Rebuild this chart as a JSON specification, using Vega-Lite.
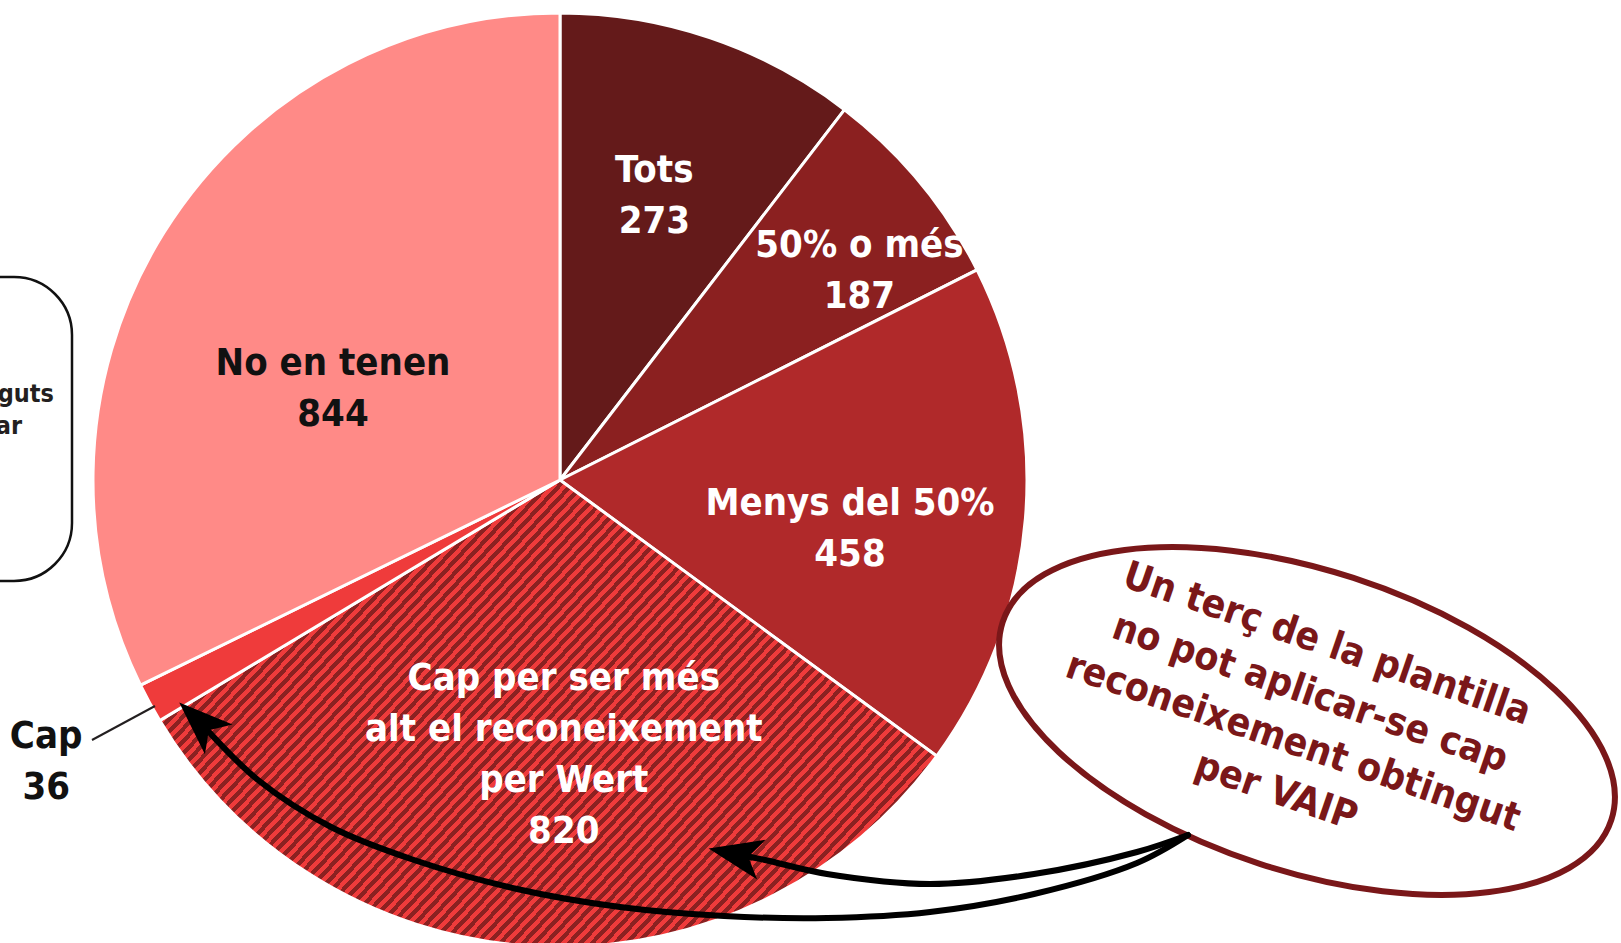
{
"$schema": "https://vega.github.io/schema/vega-lite/v6.json",
"width": 1621, "height": 943,
"autosize": {"type": "none"},
"padding": 0,
"background": "white",
"config": {"view": {"stroke": null}, "text": {"font": "DejaVu Sans Condensed", "fontWeight": "bold"}},
"datasets": {
"slices": [
{"cat": "Tots", "label": "Tots", "value": 273, "rank": 1},
{"cat": "50% o més", "label": "50% o més", "value": 187, "rank": 2},
{"cat": "Menys del 50%", "label": "Menys del 50%", "value": 458, "rank": 3},
{"cat": "Cap per Wert", "label": "Cap  per ser més\nalt el reconeixement\nper Wert", "value": 820, "rank": 4},
{"cat": "Cap", "label": "Cap", "value": 36, "rank": 5},
{"cat": "No en tenen", "label": "No en tenen", "value": 844, "rank": 6}
],
"arrows": [
{"arrow": "a", "i": 0, "x": 1188, "y": 835}, {"arrow": "a", "i": 1, "x": 1137, "y": 852}, {"arrow": "a", "i": 2, "x": 1034, "y": 874}, {"arrow": "a", "i": 3, "x": 930, "y": 884}, {"arrow": "a", "i": 4, "x": 827, "y": 874}, {"arrow": "a", "i": 5, "x": 765, "y": 860}, {"arrow": "a", "i": 6, "x": 735, "y": 854},
{"arrow": "b", "i": 0, "x": 1188, "y": 835}, {"arrow": "b", "i": 1, "x": 1137, "y": 863}, {"arrow": "b", "i": 2, "x": 1034, "y": 894}, {"arrow": "b", "i": 3, "x": 930, "y": 912}, {"arrow": "b", "i": 4, "x": 827, "y": 918}, {"arrow": "b", "i": 5, "x": 724, "y": 916}, {"arrow": "b", "i": 6, "x": 620, "y": 907}, {"arrow": "b", "i": 7, "x": 517, "y": 889}, {"arrow": "b", "i": 8, "x": 414, "y": 860}, {"arrow": "b", "i": 9, "x": 331, "y": 827}, {"arrow": "b", "i": 10, "x": 258, "y": 780}, {"arrow": "b", "i": 11, "x": 199, "y": 721}
],
"notes": [{"note": "Un terç de la plantilla\nno pot aplicar-se cap\nreconeixement obtingut\nper VAIP"}]
},
"layer": [
{
"data": {"name": "slices"},
"mark": {"type": "arc", "outerRadius": 467, "stroke": "white", "strokeWidth": 3},
"encoding": {
"theta": {"field": "value", "type": "quantitative", "stack": true},
"order": {"field": "rank", "type": "quantitative"},
"x": {"datum": 560, "type": "quantitative", "scale": {"domain": [0, 1621], "nice": false, "zero": false}, "axis": null},
"y": {"datum": 480, "type": "quantitative", "scale": {"domain": [0, 943], "nice": false, "zero": false, "reverse": true}, "axis": null},
"color": {
"condition": {"test": "datum.rank === 4", "value": {"gradient": "linear", "x1": 0, "y1": 0, "x2": 1.1248, "y2": 0.6304, "stops": [
{"offset":0.18,"color":"#8b2121"},{"offset":0.185,"color":"#8b2121"},{"offset":0.185,"color":"#ef3b3b"},{"offset":0.19,"color":"#ef3b3b"},
{"offset":0.19,"color":"#8b2121"},{"offset":0.195,"color":"#8b2121"},{"offset":0.195,"color":"#ef3b3b"},{"offset":0.2,"color":"#ef3b3b"},
{"offset":0.2,"color":"#8b2121"},{"offset":0.205,"color":"#8b2121"},{"offset":0.205,"color":"#ef3b3b"},{"offset":0.21,"color":"#ef3b3b"},
{"offset":0.21,"color":"#8b2121"},{"offset":0.215,"color":"#8b2121"},{"offset":0.215,"color":"#ef3b3b"},{"offset":0.22,"color":"#ef3b3b"},
{"offset":0.22,"color":"#8b2121"},{"offset":0.225,"color":"#8b2121"},{"offset":0.225,"color":"#ef3b3b"},{"offset":0.23,"color":"#ef3b3b"},
{"offset":0.23,"color":"#8b2121"},{"offset":0.235,"color":"#8b2121"},{"offset":0.235,"color":"#ef3b3b"},{"offset":0.24,"color":"#ef3b3b"},
{"offset":0.24,"color":"#8b2121"},{"offset":0.245,"color":"#8b2121"},{"offset":0.245,"color":"#ef3b3b"},{"offset":0.25,"color":"#ef3b3b"},
{"offset":0.25,"color":"#8b2121"},{"offset":0.255,"color":"#8b2121"},{"offset":0.255,"color":"#ef3b3b"},{"offset":0.26,"color":"#ef3b3b"},
{"offset":0.26,"color":"#8b2121"},{"offset":0.265,"color":"#8b2121"},{"offset":0.265,"color":"#ef3b3b"},{"offset":0.27,"color":"#ef3b3b"},
{"offset":0.27,"color":"#8b2121"},{"offset":0.275,"color":"#8b2121"},{"offset":0.275,"color":"#ef3b3b"},{"offset":0.28,"color":"#ef3b3b"},
{"offset":0.28,"color":"#8b2121"},{"offset":0.285,"color":"#8b2121"},{"offset":0.285,"color":"#ef3b3b"},{"offset":0.29,"color":"#ef3b3b"},
{"offset":0.29,"color":"#8b2121"},{"offset":0.295,"color":"#8b2121"},{"offset":0.295,"color":"#ef3b3b"},{"offset":0.3,"color":"#ef3b3b"},
{"offset":0.3,"color":"#8b2121"},{"offset":0.305,"color":"#8b2121"},{"offset":0.305,"color":"#ef3b3b"},{"offset":0.31,"color":"#ef3b3b"},
{"offset":0.31,"color":"#8b2121"},{"offset":0.315,"color":"#8b2121"},{"offset":0.315,"color":"#ef3b3b"},{"offset":0.32,"color":"#ef3b3b"},
{"offset":0.32,"color":"#8b2121"},{"offset":0.325,"color":"#8b2121"},{"offset":0.325,"color":"#ef3b3b"},{"offset":0.33,"color":"#ef3b3b"},
{"offset":0.33,"color":"#8b2121"},{"offset":0.335,"color":"#8b2121"},{"offset":0.335,"color":"#ef3b3b"},{"offset":0.34,"color":"#ef3b3b"},
{"offset":0.34,"color":"#8b2121"},{"offset":0.345,"color":"#8b2121"},{"offset":0.345,"color":"#ef3b3b"},{"offset":0.35,"color":"#ef3b3b"},
{"offset":0.35,"color":"#8b2121"},{"offset":0.355,"color":"#8b2121"},{"offset":0.355,"color":"#ef3b3b"},{"offset":0.36,"color":"#ef3b3b"},
{"offset":0.36,"color":"#8b2121"},{"offset":0.365,"color":"#8b2121"},{"offset":0.365,"color":"#ef3b3b"},{"offset":0.37,"color":"#ef3b3b"},
{"offset":0.37,"color":"#8b2121"},{"offset":0.375,"color":"#8b2121"},{"offset":0.375,"color":"#ef3b3b"},{"offset":0.38,"color":"#ef3b3b"},
{"offset":0.38,"color":"#8b2121"},{"offset":0.385,"color":"#8b2121"},{"offset":0.385,"color":"#ef3b3b"},{"offset":0.39,"color":"#ef3b3b"},
{"offset":0.39,"color":"#8b2121"},{"offset":0.395,"color":"#8b2121"},{"offset":0.395,"color":"#ef3b3b"},{"offset":0.4,"color":"#ef3b3b"},
{"offset":0.4,"color":"#8b2121"},{"offset":0.405,"color":"#8b2121"},{"offset":0.405,"color":"#ef3b3b"},{"offset":0.41,"color":"#ef3b3b"},
{"offset":0.41,"color":"#8b2121"},{"offset":0.415,"color":"#8b2121"},{"offset":0.415,"color":"#ef3b3b"},{"offset":0.42,"color":"#ef3b3b"},
{"offset":0.42,"color":"#8b2121"},{"offset":0.425,"color":"#8b2121"},{"offset":0.425,"color":"#ef3b3b"},{"offset":0.43,"color":"#ef3b3b"},
{"offset":0.43,"color":"#8b2121"},{"offset":0.435,"color":"#8b2121"},{"offset":0.435,"color":"#ef3b3b"},{"offset":0.44,"color":"#ef3b3b"},
{"offset":0.44,"color":"#8b2121"},{"offset":0.445,"color":"#8b2121"},{"offset":0.445,"color":"#ef3b3b"},{"offset":0.45,"color":"#ef3b3b"},
{"offset":0.45,"color":"#8b2121"},{"offset":0.455,"color":"#8b2121"},{"offset":0.455,"color":"#ef3b3b"},{"offset":0.46,"color":"#ef3b3b"},
{"offset":0.46,"color":"#8b2121"},{"offset":0.465,"color":"#8b2121"},{"offset":0.465,"color":"#ef3b3b"},{"offset":0.47,"color":"#ef3b3b"},
{"offset":0.47,"color":"#8b2121"},{"offset":0.475,"color":"#8b2121"},{"offset":0.475,"color":"#ef3b3b"},{"offset":0.48,"color":"#ef3b3b"},
{"offset":0.48,"color":"#8b2121"},{"offset":0.485,"color":"#8b2121"},{"offset":0.485,"color":"#ef3b3b"},{"offset":0.49,"color":"#ef3b3b"},
{"offset":0.49,"color":"#8b2121"},{"offset":0.495,"color":"#8b2121"},{"offset":0.495,"color":"#ef3b3b"},{"offset":0.5,"color":"#ef3b3b"},
{"offset":0.5,"color":"#8b2121"},{"offset":0.505,"color":"#8b2121"},{"offset":0.505,"color":"#ef3b3b"},{"offset":0.51,"color":"#ef3b3b"},
{"offset":0.51,"color":"#8b2121"},{"offset":0.515,"color":"#8b2121"},{"offset":0.515,"color":"#ef3b3b"},{"offset":0.52,"color":"#ef3b3b"},
{"offset":0.52,"color":"#8b2121"},{"offset":0.525,"color":"#8b2121"},{"offset":0.525,"color":"#ef3b3b"},{"offset":0.53,"color":"#ef3b3b"},
{"offset":0.53,"color":"#8b2121"},{"offset":0.535,"color":"#8b2121"},{"offset":0.535,"color":"#ef3b3b"},{"offset":0.54,"color":"#ef3b3b"},
{"offset":0.54,"color":"#8b2121"},{"offset":0.545,"color":"#8b2121"},{"offset":0.545,"color":"#ef3b3b"},{"offset":0.55,"color":"#ef3b3b"},
{"offset":0.55,"color":"#8b2121"},{"offset":0.555,"color":"#8b2121"},{"offset":0.555,"color":"#ef3b3b"},{"offset":0.56,"color":"#ef3b3b"},
{"offset":0.56,"color":"#8b2121"},{"offset":0.565,"color":"#8b2121"},{"offset":0.565,"color":"#ef3b3b"},{"offset":0.57,"color":"#ef3b3b"},
{"offset":0.57,"color":"#8b2121"},{"offset":0.575,"color":"#8b2121"},{"offset":0.575,"color":"#ef3b3b"},{"offset":0.58,"color":"#ef3b3b"},
{"offset":0.58,"color":"#8b2121"},{"offset":0.585,"color":"#8b2121"},{"offset":0.585,"color":"#ef3b3b"},{"offset":0.59,"color":"#ef3b3b"},
{"offset":0.59,"color":"#8b2121"},{"offset":0.595,"color":"#8b2121"},{"offset":0.595,"color":"#ef3b3b"},{"offset":0.6,"color":"#ef3b3b"},
{"offset":0.6,"color":"#8b2121"},{"offset":0.605,"color":"#8b2121"},{"offset":0.605,"color":"#ef3b3b"},{"offset":0.61,"color":"#ef3b3b"},
{"offset":0.61,"color":"#8b2121"},{"offset":0.615,"color":"#8b2121"},{"offset":0.615,"color":"#ef3b3b"},{"offset":0.62,"color":"#ef3b3b"},
{"offset":0.62,"color":"#8b2121"},{"offset":0.625,"color":"#8b2121"},{"offset":0.625,"color":"#ef3b3b"},{"offset":0.63,"color":"#ef3b3b"},
{"offset":0.63,"color":"#8b2121"},{"offset":0.635,"color":"#8b2121"},{"offset":0.635,"color":"#ef3b3b"},{"offset":0.64,"color":"#ef3b3b"},
{"offset":0.64,"color":"#8b2121"},{"offset":0.645,"color":"#8b2121"},{"offset":0.645,"color":"#ef3b3b"},{"offset":0.65,"color":"#ef3b3b"},
{"offset":0.65,"color":"#8b2121"},{"offset":0.655,"color":"#8b2121"},{"offset":0.655,"color":"#ef3b3b"},{"offset":0.66,"color":"#ef3b3b"},
{"offset":0.66,"color":"#8b2121"},{"offset":0.665,"color":"#8b2121"},{"offset":0.665,"color":"#ef3b3b"},{"offset":0.67,"color":"#ef3b3b"},
{"offset":0.67,"color":"#8b2121"},{"offset":0.675,"color":"#8b2121"},{"offset":0.675,"color":"#ef3b3b"},{"offset":0.68,"color":"#ef3b3b"},
{"offset":0.68,"color":"#8b2121"},{"offset":0.685,"color":"#8b2121"},{"offset":0.685,"color":"#ef3b3b"},{"offset":0.69,"color":"#ef3b3b"},
{"offset":0.69,"color":"#8b2121"},{"offset":0.695,"color":"#8b2121"},{"offset":0.695,"color":"#ef3b3b"},{"offset":0.7,"color":"#ef3b3b"},
{"offset":0.7,"color":"#8b2121"},{"offset":0.705,"color":"#8b2121"},{"offset":0.705,"color":"#ef3b3b"},{"offset":0.71,"color":"#ef3b3b"},
{"offset":0.71,"color":"#8b2121"},{"offset":0.715,"color":"#8b2121"},{"offset":0.715,"color":"#ef3b3b"},{"offset":0.72,"color":"#ef3b3b"},
{"offset":0.72,"color":"#8b2121"},{"offset":0.725,"color":"#8b2121"},{"offset":0.725,"color":"#ef3b3b"},{"offset":0.73,"color":"#ef3b3b"},
{"offset":0.73,"color":"#8b2121"},{"offset":0.735,"color":"#8b2121"},{"offset":0.735,"color":"#ef3b3b"},{"offset":0.74,"color":"#ef3b3b"},
{"offset":0.74,"color":"#8b2121"},{"offset":0.745,"color":"#8b2121"},{"offset":0.745,"color":"#ef3b3b"},{"offset":0.75,"color":"#ef3b3b"},
{"offset":0.75,"color":"#8b2121"},{"offset":0.755,"color":"#8b2121"},{"offset":0.755,"color":"#ef3b3b"},{"offset":0.76,"color":"#ef3b3b"},
{"offset":0.76,"color":"#8b2121"},{"offset":0.765,"color":"#8b2121"},{"offset":0.765,"color":"#ef3b3b"},{"offset":0.77,"color":"#ef3b3b"},
{"offset":0.77,"color":"#8b2121"},{"offset":0.775,"color":"#8b2121"},{"offset":0.775,"color":"#ef3b3b"},{"offset":0.78,"color":"#ef3b3b"},
{"offset":0.78,"color":"#8b2121"},{"offset":0.785,"color":"#8b2121"},{"offset":0.785,"color":"#ef3b3b"},{"offset":0.79,"color":"#ef3b3b"},
{"offset":0.79,"color":"#8b2121"},{"offset":0.795,"color":"#8b2121"},{"offset":0.795,"color":"#ef3b3b"},{"offset":0.8,"color":"#ef3b3b"},
{"offset":0.8,"color":"#8b2121"},{"offset":0.805,"color":"#8b2121"},{"offset":0.805,"color":"#ef3b3b"},{"offset":0.81,"color":"#ef3b3b"},
{"offset":0.81,"color":"#8b2121"},{"offset":0.815,"color":"#8b2121"},{"offset":0.815,"color":"#ef3b3b"},{"offset":0.82,"color":"#ef3b3b"},
{"offset":0.82,"color":"#8b2121"},{"offset":0.825,"color":"#8b2121"},{"offset":0.825,"color":"#ef3b3b"},{"offset":0.83,"color":"#ef3b3b"},
{"offset":0.83,"color":"#8b2121"},{"offset":0.835,"color":"#8b2121"},{"offset":0.835,"color":"#ef3b3b"},{"offset":0.84,"color":"#ef3b3b"},
{"offset":0.84,"color":"#8b2121"},{"offset":0.845,"color":"#8b2121"},{"offset":0.845,"color":"#ef3b3b"},{"offset":0.85,"color":"#ef3b3b"},
{"offset":0.85,"color":"#8b2121"},{"offset":0.855,"color":"#8b2121"},{"offset":0.855,"color":"#ef3b3b"},{"offset":0.86,"color":"#ef3b3b"},
{"offset":0.86,"color":"#8b2121"},{"offset":0.865,"color":"#8b2121"},{"offset":0.865,"color":"#ef3b3b"},{"offset":0.87,"color":"#ef3b3b"},
{"offset":0.87,"color":"#8b2121"},{"offset":0.875,"color":"#8b2121"},{"offset":0.875,"color":"#ef3b3b"},{"offset":0.88,"color":"#ef3b3b"},
{"offset":0.88,"color":"#8b2121"},{"offset":0.885,"color":"#8b2121"},{"offset":0.885,"color":"#ef3b3b"},{"offset":0.89,"color":"#ef3b3b"},
{"offset":0.89,"color":"#8b2121"},{"offset":0.895,"color":"#8b2121"},{"offset":0.895,"color":"#ef3b3b"},{"offset":0.9,"color":"#ef3b3b"},
{"offset":0.9,"color":"#8b2121"},{"offset":0.905,"color":"#8b2121"},{"offset":0.905,"color":"#ef3b3b"},{"offset":0.91,"color":"#ef3b3b"},
{"offset":0.91,"color":"#8b2121"},{"offset":0.915,"color":"#8b2121"},{"offset":0.915,"color":"#ef3b3b"},{"offset":0.92,"color":"#ef3b3b"}
]}},
"field": "cat", "type": "nominal",
"scale": {"domain": ["Tots", "50% o més", "Menys del 50%", "Cap per Wert", "Cap", "No en tenen"], "range": ["#641a1a", "#8b2020", "#b0292a", "#8b2121", "#ef3b3b", "#ff8a87"]},
"legend": null
}
}
},
{
"data": {"name": "slices"},
"transform": [{"calculate": "datum.label + '\\n' + datum.value", "as": "txt"}],
"mark": {"type": "text", "radius": 290, "dx": 1, "dy": -34.5, "fontSize": 38, "lineHeight": 51, "lineBreak": "\n", "color": "white"},
"encoding": {
"theta": {"field": "value", "type": "quantitative", "stack": true},
"order": {"field": "rank", "type": "quantitative"},
"x": {"datum": 560, "type": "quantitative"},
"y": {"datum": 480, "type": "quantitative"},
"text": {"field": "txt"},
"opacity": {"condition": {"test": "datum.rank === 1", "value": 1}, "value": 0}
}
},
{
"data": {"name": "slices"},
"transform": [{"calculate": "datum.label + '\\n' + datum.value", "as": "txt"}],
"mark": {"type": "text", "radius": 364, "dx": 19, "dy": -1.5, "fontSize": 38, "lineHeight": 51, "lineBreak": "\n", "color": "white"},
"encoding": {
"theta": {"field": "value", "type": "quantitative", "stack": true},
"order": {"field": "rank", "type": "quantitative"},
"x": {"datum": 560, "type": "quantitative"},
"y": {"datum": 480, "type": "quantitative"},
"text": {"field": "txt"},
"opacity": {"condition": {"test": "datum.rank === 2", "value": 1}, "value": 0}
}
},
{
"data": {"name": "slices"},
"transform": [{"calculate": "datum.label + '\\n' + datum.value", "as": "txt"}],
"mark": {"type": "text", "radius": 290, "dx": 1, "dy": 0.5, "fontSize": 38, "lineHeight": 51, "lineBreak": "\n", "color": "white"},
"encoding": {
"theta": {"field": "value", "type": "quantitative", "stack": true},
"order": {"field": "rank", "type": "quantitative"},
"x": {"datum": 560, "type": "quantitative"},
"y": {"datum": 480, "type": "quantitative"},
"text": {"field": "txt"},
"opacity": {"condition": {"test": "datum.rank === 3", "value": 1}, "value": 0}
}
},
{
"data": {"name": "slices"},
"transform": [{"calculate": "datum.label + '\\n' + datum.value", "as": "txt"}],
"mark": {"type": "text", "radius": 290, "dx": 17, "dy": -90.5, "fontSize": 38, "lineHeight": 51, "lineBreak": "\n", "color": "white"},
"encoding": {
"theta": {"field": "value", "type": "quantitative", "stack": true},
"order": {"field": "rank", "type": "quantitative"},
"x": {"datum": 560, "type": "quantitative"},
"y": {"datum": 480, "type": "quantitative"},
"text": {"field": "txt"},
"opacity": {"condition": {"test": "datum.rank === 4", "value": 1}, "value": 0}
}
},
{
"data": {"name": "slices"},
"transform": [{"calculate": "datum.label + '\\n' + datum.value", "as": "txt"}],
"mark": {"type": "text", "radius": 586, "dx": 1, "dy": -22.5, "fontSize": 38, "lineHeight": 51, "lineBreak": "\n", "color": "#111111"},
"encoding": {
"theta": {"field": "value", "type": "quantitative", "stack": true},
"order": {"field": "rank", "type": "quantitative"},
"x": {"datum": 560, "type": "quantitative"},
"y": {"datum": 480, "type": "quantitative"},
"text": {"field": "txt"},
"opacity": {"condition": {"test": "datum.rank === 5", "value": 1}, "value": 0}
}
},
{
"data": {"name": "slices"},
"transform": [{"calculate": "datum.label + '\\n' + datum.value", "as": "txt"}],
"mark": {"type": "text", "radius": 244, "dx": -20, "dy": 13.5, "fontSize": 38, "lineHeight": 51, "lineBreak": "\n", "color": "#111111"},
"encoding": {
"theta": {"field": "value", "type": "quantitative", "stack": true},
"order": {"field": "rank", "type": "quantitative"},
"x": {"datum": 560, "type": "quantitative"},
"y": {"datum": 480, "type": "quantitative"},
"text": {"field": "txt"},
"opacity": {"condition": {"test": "datum.rank === 6", "value": 1}, "value": 0}
}
},
{
"data": {"name": "notes"},
"mark": {"type": "rule", "stroke": "#231f20", "strokeWidth": 2},
"encoding": {
"x": {"datum": 92, "type": "quantitative"}, "y": {"datum": 740, "type": "quantitative"},
"x2": {"datum": 155}, "y2": {"datum": 706}
}
},
{
"data": {"name": "notes"},
"mark": {"type": "rect", "fill": "transparent", "stroke": "#111111", "strokeWidth": 2.5, "cornerRadius": 58},
"encoding": {
"x": {"datum": -300, "type": "quantitative"}, "x2": {"datum": 72},
"y": {"datum": 277, "type": "quantitative"}, "y2": {"datum": 581}
}
},
{
"data": {"name": "notes"},
"mark": {"type": "text", "text": "reconeixements obtinguts", "align": "right", "fontSize": 25, "color": "#231f20"},
"encoding": {"x": {"datum": 54, "type": "quantitative"}, "y": {"datum": 394, "type": "quantitative"}}
},
{
"data": {"name": "notes"},
"mark": {"type": "text", "text": "que es poden aplicar", "align": "right", "fontSize": 25, "color": "#231f20"},
"encoding": {"x": {"datum": 22, "type": "quantitative"}, "y": {"datum": 426, "type": "quantitative"}}
},
{
"data": {"name": "notes"},
"mark": {"type": "point", "shape": "M-1,0 A1,0.47 0 1,0 1,0 A1,0.47 0 1,0 -1,0 Z", "size": 409600, "angle": 18, "filled": true, "fill": "white", "stroke": "#7a1719", "strokeWidth": 6, "opacity": 1},
"encoding": {"x": {"datum": 1307, "type": "quantitative"}, "y": {"datum": 721, "type": "quantitative"}}
},
{
"data": {"name": "notes"},
"mark": {"type": "text", "angle": 19, "fontSize": 39, "lineHeight": 52, "lineBreak": "\n", "color": "#7a1719"},
"encoding": {"x": {"datum": 1327, "type": "quantitative"}, "y": {"datum": 644, "type": "quantitative"}, "text": {"field": "note"}}
},
{
"data": {"name": "arrows"},
"mark": {"type": "line", "interpolate": "catmull-rom", "stroke": "black", "strokeWidth": 6, "strokeCap": "round"},
"encoding": {
"x": {"field": "x", "type": "quantitative"},
"y": {"field": "y", "type": "quantitative"},
"detail": {"field": "arrow"},
"order": {"field": "i", "type": "quantitative"}
}
},
{
"data": {"name": "notes"},
"mark": {"type": "point", "shape": "M-1,0 L1,-0.75 L0.5,0 L1,0.75 Z", "size": 2916, "angle": 12, "filled": true, "fill": "black", "stroke": null, "opacity": 1},
"encoding": {"x": {"datum": 735, "type": "quantitative"}, "y": {"datum": 854, "type": "quantitative"}}
},
{
"data": {"name": "notes"},
"mark": {"type": "point", "shape": "M-1,0 L1,-0.75 L0.5,0 L1,0.75 Z", "size": 2916, "angle": 43, "filled": true, "fill": "black", "stroke": null, "opacity": 1},
"encoding": {"x": {"datum": 199, "type": "quantitative"}, "y": {"datum": 721, "type": "quantitative"}}
}
]
}
